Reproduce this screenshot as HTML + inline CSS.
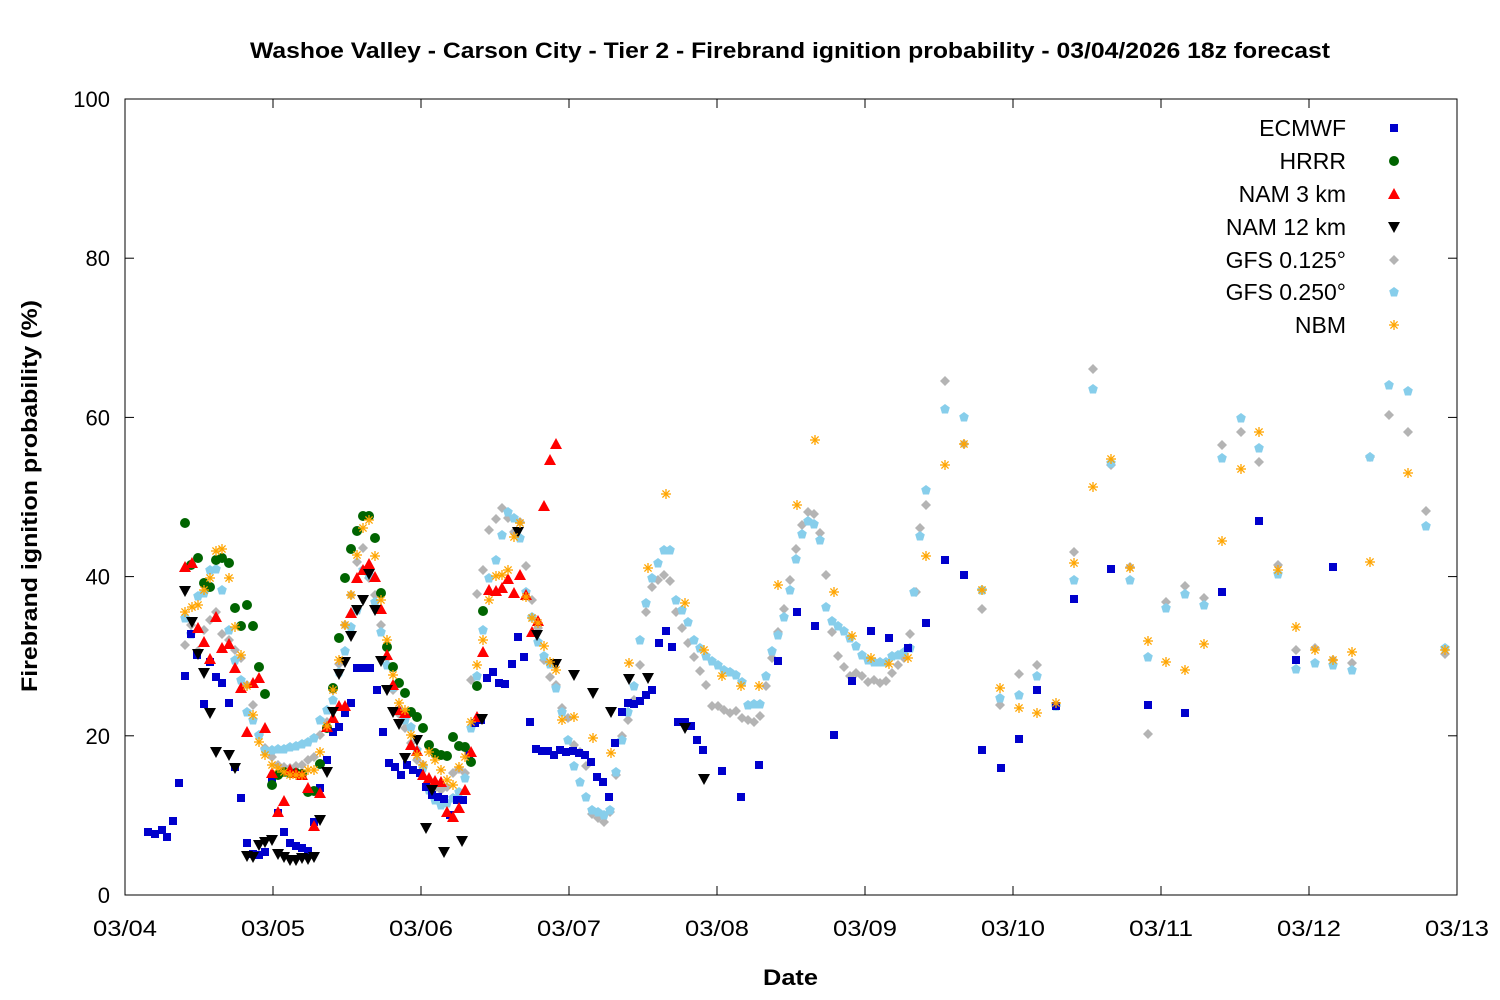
<!DOCTYPE html>
<html><head><meta charset="utf-8"><style>
html,body{margin:0;padding:0;background:#fff;}
svg{display:block;font-family:"Liberation Sans","DejaVu Sans",sans-serif;}
</style></head><body>
<svg id="s" width="1500" height="1000" viewBox="0 0 1500 1000" xmlns="http://www.w3.org/2000/svg">
<defs>
<rect id="sq" x="-4" y="-4" width="8" height="8" fill="#0000cc"/>
<circle id="ci" r="5" fill="#006400"/>
<polygon id="tu" points="0,-6 6,5 -6,5" fill="#ff0000"/>
<polygon id="td" points="0,6 6,-5 -6,-5" fill="#000000"/>
<polygon id="di" points="0,-5 5,0 0,5 -5,0" fill="#b4b4b4"/>
<polygon id="hx" points="0,-5 4.8,-1.5 3,4.5 -3,4.5 -4.8,-1.5" fill="#87ceeb"/>
<g id="as" stroke="#ffa500" stroke-width="1.3"><line x1="-5" y1="0" x2="5" y2="0"/><line x1="0" y1="-5" x2="0" y2="5"/><line x1="-3.6" y1="-3.6" x2="3.6" y2="3.6"/><line x1="-3.6" y1="3.6" x2="3.6" y2="-3.6"/></g>
</defs>
<text x="250" y="58" textLength="1080" lengthAdjust="spacingAndGlyphs" font-size="22" font-weight="bold">Washoe Valley - Carson City - Tier 2 - Firebrand ignition probability - 03/04/2026 18z forecast</text>
<rect x="125" y="99" width="1332" height="796" fill="none" stroke="#000" stroke-width="1"/>
<g id="ticks" stroke="#000" stroke-width="1"></g>
<g id="lab" font-size="22"></g>
<text x="763" y="985" textLength="55" lengthAdjust="spacingAndGlyphs" font-size="22" font-weight="bold">Date</text>
<text transform="translate(37,692) rotate(-90)" textLength="392" lengthAdjust="spacingAndGlyphs" font-size="22" font-weight="bold">Firebrand ignition probability (%)</text>
<g id="pts"></g>
<g font-size="23" text-anchor="end">
<text x="1346" y="136">ECMWF</text><text x="1346" y="169">HRRR</text><text x="1346" y="202">NAM 3 km</text><text x="1346" y="235">NAM 12 km</text><text x="1346" y="268">GFS 0.125°</text><text x="1346" y="300">GFS 0.250°</text><text x="1346" y="333">NBM</text>
</g>
<use href="#sq" x="1394" y="128"/><use href="#ci" x="1394" y="161"/><use href="#tu" x="1394" y="194"/><use href="#td" x="1394" y="227"/><use href="#di" x="1394" y="260"/><use href="#hx" x="1394" y="292"/><use href="#as" x="1394" y="325"/>
</svg>
<script>
var NS="http://www.w3.org/2000/svg";
function el(t,a,p,txt){var e=document.createElementNS(NS,t);for(var k in a)e.setAttribute(k,a[k]);if(txt!==undefined)e.textContent=txt;document.getElementById(p).appendChild(e);return e;}
for(var i=0;i<=5;i++){var y=895-i*159.2;el("line",{x1:125,y1:y,x2:134,y2:y},"ticks");el("line",{x1:1448,y1:y,x2:1457,y2:y},"ticks");el("text",{x:110,y:y+8,"text-anchor":"end"},"lab",String(i*20));}
var d=["03/04","03/05","03/06","03/07","03/08","03/09","03/10","03/11","03/12","03/13"];
for(var i=0;i<10;i++){var x=125+i*148;el("line",{x1:x,y1:895,x2:x,y2:886},"ticks");el("line",{x1:x,y1:99,x2:x,y2:108},"ticks");el("text",{x:x-32,y:936,textLength:64,lengthAdjust:"spacingAndGlyphs"},"lab",d[i]);}
var S={
di:[[185,645],[191,625],[198,651],[204,630],[210,620],[216,612],[222,634],[229,640],[235,650],[241,658],[247,685],[253,705],[259,735],[265,748],[272,757],[278,765],[284,767],[290,768],[296,766],[302,765],[308,760],[314,757],[320,735],[327,722],[333,690],[339,664],[345,625],[351,595],[357,562],[363,548],[369,578],[375,595],[381,625],[387,658],[393,690],[399,714],[405,728],[411,743],[417,760],[423,765],[429,780],[435,788],[441,790],[447,787],[453,773],[459,769],[465,773],[471,680],[477,594],[483,570],[489,530],[496,519],[502,508],[508,518],[514,532],[520,522],[526,566],[532,600],[538,628],[544,660],[550,677],[556,685],[562,708],[568,718],[574,745],[580,752],[586,766],[592,814],[598,818],[604,822],[610,812],[616,775],[622,736],[628,720],[634,700],[640,665],[646,612],[652,587],[658,580],[664,575],[670,581],[676,612],[682,628],[688,643],[694,657],[700,671],[706,685],[712,706],[718,706],[724,710],[730,713],[736,711],[742,718],[748,720],[754,722],[760,716],[766,686],[772,658],[778,632],[784,609],[790,580],[796,549],[802,525],[808,512],[814,514],[820,533],[826,575],[832,632],[838,656],[844,667],[850,676],[856,673],[862,676],[868,682],[874,680],[880,683],[886,681],[892,673],[898,665],[904,658],[910,634],[916,592],[920,528],[926,505],[945,381],[964,444],[982,609],[1000,705],[1019,674],[1037,665],[1056,706],[1074,552],[1093,369],[1111,465],[1130,567],[1148,734],[1166,602],[1185,586],[1204,598],[1222,445],[1241,432],[1259,462],[1278,565],[1296,650],[1315,648],[1333,660],[1352,663],[1370,457],[1389,415],[1408,432],[1426,511],[1445,654]],
hx:[[185,618],[191,634],[198,596],[204,593],[210,570],[216,569],[222,590],[229,630],[235,660],[241,680],[247,712],[253,720],[259,735],[265,750],[272,750],[278,749],[284,749],[290,747],[296,746],[302,744],[308,742],[314,738],[320,720],[327,710],[333,700],[339,672],[345,651],[351,627],[357,610],[363,570],[369,575],[375,602],[381,632],[387,665],[393,687],[399,710],[405,720],[411,727],[417,750],[423,768],[429,790],[435,800],[441,805],[447,803],[453,798],[459,792],[465,778],[471,728],[477,676],[483,630],[489,578],[496,560],[502,535],[508,512],[514,518],[520,538],[526,592],[532,617],[538,642],[544,656],[550,664],[556,688],[562,712],[568,740],[574,766],[580,782],[586,797],[592,810],[598,812],[604,815],[610,810],[616,772],[622,740],[628,712],[634,686],[640,640],[646,603],[652,578],[658,563],[664,550],[670,550],[676,600],[682,610],[688,622],[694,640],[700,648],[706,656],[712,661],[718,665],[724,670],[730,672],[736,675],[742,682],[748,705],[754,704],[760,704],[766,676],[772,651],[778,635],[784,617],[790,590],[796,559],[802,534],[808,521],[814,524],[820,540],[826,607],[832,621],[838,626],[844,631],[850,638],[856,646],[862,655],[868,660],[874,662],[880,662],[886,662],[892,656],[898,655],[904,652],[910,648],[914,592],[920,536],[926,490],[945,409],[964,417],[982,590],[1000,698],[1019,695],[1037,676],[1056,706],[1074,580],[1093,389],[1111,463],[1130,580],[1148,657],[1166,608],[1185,594],[1204,605],[1222,458],[1241,418],[1259,448],[1278,574],[1296,669],[1315,663],[1333,665],[1352,670],[1370,457],[1389,385],[1408,391],[1426,526],[1445,648]],
sq:[[148,832],[155,834],[162,830],[167,837],[173,821],[179,783],[185,676],[191,634],[197,655],[204,704],[210,662],[216,677],[222,683],[229,703],[235,767],[241,798],[247,843],[253,854],[259,855],[265,852],[272,778],[278,813],[284,832],[290,843],[296,846],[302,848],[308,851],[314,822],[320,788],[327,760],[333,732],[339,727],[345,713],[351,703],[357,668],[363,668],[370,668],[377,690],[383,732],[389,763],[395,767],[401,775],[407,765],[413,770],[420,773],[426,787],[432,795],[438,797],[444,799],[450,815],[457,800],[463,800],[469,755],[475,723],[481,720],[487,678],[493,672],[499,683],[505,684],[512,664],[518,637],[524,657],[530,722],[536,749],[542,751],[548,751],[554,755],[560,750],[566,752],[573,751],[579,753],[585,755],[591,762],[597,777],[603,782],[609,797],[615,743],[622,712],[628,703],[634,704],[640,701],[646,695],[652,690],[659,643],[666,631],[672,647],[678,722],[685,722],[691,726],[697,740],[703,750],[722,771],[741,797],[759,765],[778,661],[797,612],[815,626],[834,735],[852,681],[871,631],[889,638],[908,648],[926,623],[945,560],[964,575],[982,750],[1001,768],[1019,739],[1037,690],[1056,706],[1074,599],[1111,569],[1148,705],[1185,713],[1222,592],[1259,521],[1296,660],[1333,567]],
ci:[[185,523],[191,565],[198,558],[204,583],[210,587],[216,560],[222,558],[229,563],[235,608],[241,626],[247,605],[253,626],[259,667],[265,694],[272,785],[278,775],[284,772],[290,773],[296,773],[302,774],[308,792],[314,791],[320,764],[327,728],[333,688],[339,638],[345,578],[351,549],[357,531],[363,516],[369,516],[375,538],[381,593],[387,647],[393,667],[399,683],[405,693],[411,712],[417,717],[423,728],[429,745],[435,753],[441,755],[447,756],[453,737],[459,746],[465,747],[471,762],[477,686],[483,611]],
tu:[[185,567],[192,563],[198,628],[204,642],[210,659],[216,617],[222,648],[229,644],[235,668],[241,688],[247,732],[253,683],[259,678],[265,728],[272,773],[278,812],[284,801],[290,770],[296,773],[302,775],[308,788],[314,826],[320,793],[327,727],[333,718],[339,706],[345,706],[351,613],[357,578],[363,570],[369,564],[375,577],[381,609],[387,655],[393,685],[399,710],[405,713],[411,745],[417,751],[423,775],[429,778],[435,781],[441,782],[447,812],[453,817],[459,808],[465,790],[471,752],[477,717],[483,652],[489,590],[496,591],[502,588],[508,579],[514,593],[520,575],[526,595],[532,632],[538,621],[544,506],[550,460],[556,444]],
td:[[185,591],[192,622],[198,654],[204,673],[210,713],[216,752],[229,755],[235,768],[247,856],[253,857],[259,845],[265,842],[272,840],[278,854],[284,857],[290,860],[296,860],[302,858],[308,859],[314,857],[320,820],[327,772],[333,712],[339,674],[345,662],[351,636],[357,610],[363,600],[369,574],[375,610],[381,661],[387,690],[393,712],[399,724],[405,758],[417,740],[426,828],[432,790],[444,852],[462,841],[482,719],[518,532],[537,635],[556,664],[574,675],[593,693],[611,712],[629,679],[648,678],[685,728],[704,779]],
as:[[185,612],[192,607],[198,605],[204,590],[210,578],[216,551],[222,549],[229,578],[235,627],[241,655],[247,686],[253,715],[259,742],[265,755],[272,765],[278,768],[284,772],[290,775],[296,775],[302,775],[308,770],[314,770],[320,752],[327,726],[333,690],[339,660],[345,625],[351,595],[357,555],[363,528],[369,520],[375,556],[381,600],[387,640],[393,675],[399,703],[405,710],[411,735],[417,755],[423,765],[429,752],[435,760],[441,770],[447,780],[453,785],[459,767],[465,757],[471,722],[477,665],[483,640],[489,600],[496,576],[502,575],[508,570],[514,537],[520,523],[526,597],[532,618],[538,623],[544,646],[550,662],[556,670],[562,720],[574,717],[593,738],[611,753],[629,663],[648,568],[666,494],[685,603],[704,650],[722,676],[741,686],[759,686],[778,585],[797,505],[815,440],[834,592],[852,636],[871,658],[889,664],[908,658],[926,556],[945,465],[964,444],[982,590],[1000,688],[1019,708],[1037,713],[1056,703],[1074,563],[1093,487],[1111,459],[1130,568],[1148,641],[1166,662],[1185,670],[1204,644],[1222,541],[1241,469],[1259,432],[1278,570],[1296,627],[1315,650],[1333,660],[1352,652],[1370,562],[1408,473],[1445,650]]
};
["di","hx","sq","ci","tu","td","as"].forEach(function(k){S[k].forEach(function(p){el("use",{href:"#"+k,x:p[0],y:p[1]},"pts");});});
</script>
</body></html>
